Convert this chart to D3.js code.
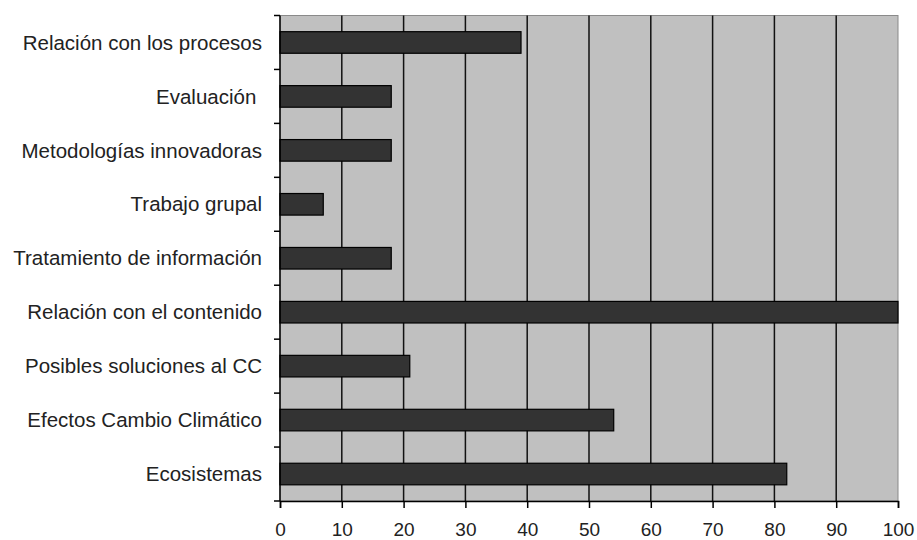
<!DOCTYPE html>
<html>
<head>
<meta charset="utf-8">
<script src="https://cdn.jsdelivr.net/npm/d3@7"></script>
<style>
  body { margin: 0; background: #fff; }
  text { font-family: "Liberation Sans", Arial, sans-serif; fill: #222; }
</style>
</head>
<body>
<div id="chart-area"></div>
<script>
// categories from top to bottom
let categories = ["Relación con los procesos", "Evaluación ", "Metodologías innovadoras",
                  "Trabajo grupal", "Tratamiento de información", "Relación con el contenido",
                  "Posibles soluciones al CC", "Efectos Cambio Climático", "Ecosistemas"];
let values = [39, 18, 18, 7, 18, 100, 21, 54, 82];
let xTicks = [0, 10, 20, 30, 40, 50, 60, 70, 80, 90, 100];

let plotLeft = 280, plotRight = 898, plotTop = 15.5, plotBottom = 501;

let svg = d3.select('#chart-area')
            .append('svg')
            .attr('width', 917)
            .attr('height', 540);

let x = d3.scaleLinear().domain([0, 100]).range([plotLeft, plotRight]);
let y = d3.scaleBand()
        .domain(categories)
        .range([plotTop, plotBottom])
        .paddingInner(0.6)
        .paddingOuter(0.3);
let yEdges = d3.scaleLinear().domain([0, categories.length]).range([plotTop, plotBottom]);

// plot background
svg.append("rect")
   .attr("x", plotLeft).attr("y", plotTop)
   .attr("width", plotRight - plotLeft).attr("height", plotBottom - plotTop)
   .attr("fill", "#c0c0c0")
   .attr("stroke", "#8a8a8a")
   .attr("stroke-width", 1);

// vertical gridlines
svg.selectAll(".grid")
   .data(xTicks.slice(1, -1))
   .enter()
   .append("line")
   .attr("x1", d => x(d)).attr("x2", d => x(d))
   .attr("y1", plotTop).attr("y2", plotBottom)
   .attr("stroke", "#111")
   .attr("stroke-width", 1.5);

// bars
svg.selectAll(".bar")
   .data(values)
   .enter()
   .append("rect")
   .attr("x", x(0))
   .attr("y", (d, i) => y(categories[i]))
   .attr("width", d => x(d) - x(0))
   .attr("height", y.bandwidth())
   .attr("fill", "#333333")
   .attr("stroke", "#000")
   .attr("stroke-width", 1.2);

// x axis
let xAxis = d3.axisBottom(x).tickValues(xTicks).tickSize(7).tickPadding(15);
let gx = svg.append("g").attr("transform", `translate(0,${plotBottom})`).call(xAxis);
gx.select(".domain").attr("stroke", "#000").attr("stroke-width", 1.5);
gx.selectAll(".tick line").attr("stroke", "#000").attr("stroke-width", 1.5);
gx.selectAll("text").attr("font-size", 19).attr("fill", "#222")
  .attr("font-family", "Liberation Sans, Arial, sans-serif");

// y axis line with ticks at band edges
svg.append("line")
   .attr("x1", plotLeft).attr("x2", plotLeft)
   .attr("y1", plotTop).attr("y2", plotBottom)
   .attr("stroke", "#000").attr("stroke-width", 1.5);
svg.selectAll(".ytick")
   .data(d3.range(categories.length + 1))
   .enter()
   .append("line")
   .attr("x1", plotLeft - 6).attr("x2", plotLeft)
   .attr("y1", d => yEdges(d)).attr("y2", d => yEdges(d))
   .attr("stroke", "#000").attr("stroke-width", 1.5);

// category labels
svg.selectAll(".ylabel")
   .data(categories)
   .enter()
   .append("text")
   .attr("x", 262)
   .attr("y", d => y(d) + y.bandwidth() / 2)
   .attr("dy", "0.35em")
   .attr("text-anchor", "end")
   .attr("font-size", 20.5)
   .style("white-space", "pre")
   .text(d => d);
</script>
</body>
</html>
